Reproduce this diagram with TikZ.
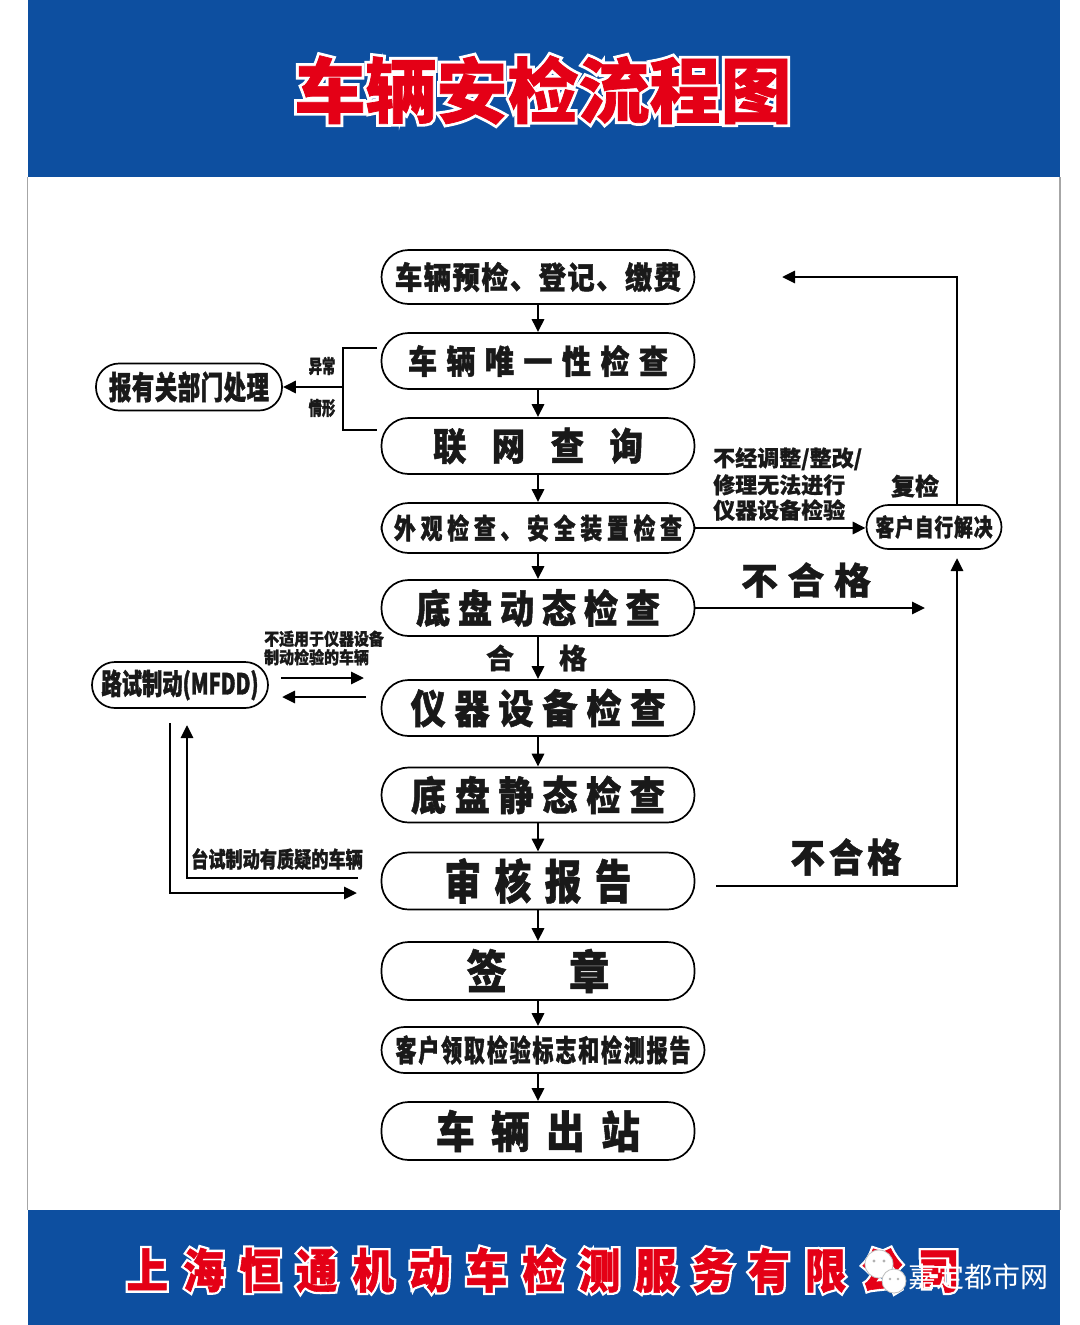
\documentclass[tikz,border=0pt]{standalone}
\usepackage{fontspec}
\usetikzlibrary{arrows.meta,calc}
\newfontfamily\cjN[BoldFeatures={FakeBold=0.8}]{Noto Sans CJK SC}
\newfontfamily\cjA[FakeStretch=0.88,BoldFeatures={FakeBold=1.2}]{Noto Sans CJK SC}
\newfontfamily\cjB[FakeStretch=0.78,BoldFeatures={FakeBold=1.2}]{Noto Sans CJK SC}
\newfontfamily\cjC[FakeStretch=0.70,BoldFeatures={FakeBold=1.2}]{Noto Sans CJK SC}
\newfontfamily\cjT[BoldFeatures={FakeBold=1.0}]{Noto Sans CJK SC}
\newfontfamily\cjTW[BoldFeatures={FakeBold=9}]{Noto Sans CJK SC}
\newfontfamily\cjAW[FakeStretch=0.88,BoldFeatures={FakeBold=11}]{Noto Sans CJK SC}
\newcommand\fs[1]{\fontsize{#1}{#1}\selectfont}
\newcommand\spr[2]{\makebox[#1][s]{#2}}
\newcommand\hf{\hfill}
\definecolor{banner}{RGB}{13,79,160}
\definecolor{titlered}{RGB}{228,0,22}
\definecolor{ink}{RGB}{25,25,25}
\tikzset{
  box/.style={draw=black, line width=1.7pt, rounded corners=27pt, minimum width=313pt,
    minimum height=56pt, inner sep=0pt, fill=white, text=ink},
  sbox/.style={draw=black, line width=1.7pt, rounded corners=22pt, inner sep=0pt, fill=white, text=ink},
  arr/.style={line width=2.9pt, -{Triangle[length=13pt,width=12pt]}},
  lbl/.style={inner sep=0pt, text=ink},
  halo/.style={inner sep=0pt, text=white},
  redt/.style={inner sep=0pt, text=titlered},
}
\begin{document}
\begin{tikzpicture}[x=1pt,y=-1pt]
\useasboundingbox (0,0) rectangle (1079,1325);
\fill[white] (0,0) rectangle (1079,1325);
% banners
\fill[banner] (28,0) rectangle (1060,177);
\fill[banner] (28,1210) rectangle (1060,1325);
\draw[gray!70, line width=1.5pt] (27.5,177) -- (27.5,1210);
\draw[gray!70, line width=1.5pt] (1060,177) -- (1060,1210);
% title
\node[halo] (titleW) at (543,90) {\fs{71}\cjTW\bfseries 车辆安检流程图};
\node[redt] (title) at (543,90) {\fs{71}\cjT\bfseries 车辆安检流程图};
\node[halo] (companyW) at (543,1270) {\fs{47}\cjAW\bfseries\spr{833pt}{上\hf 海\hf 恒\hf 通\hf 机\hf 动\hf 车\hf 检\hf 测\hf 服\hf 务\hf 有\hf 限\hf 公\hf 司}};
\node[redt] (company) at (543,1270) {\fs{47}\cjA\bfseries\spr{833pt}{上\hf 海\hf 恒\hf 通\hf 机\hf 动\hf 车\hf 检\hf 测\hf 服\hf 务\hf 有\hf 限\hf 公\hf 司}};
% watermark
\fill[white, draw=gray!50, line width=0.8pt] (879,1264) circle (14pt);
\fill[white, draw=gray!50, line width=0.8pt] (894,1281) circle (12pt);
\fill[gray!60] (874,1261) circle (1.6pt) (884,1261) circle (1.6pt) (890,1279) circle (1.4pt) (898,1279) circle (1.4pt);
\node[inner sep=0pt, text=white] (wm) at (978,1277) {\fs{28}\cjT 嘉定都市网};
% main nodes
\node[box, minimum height=54pt] (n1) at (538,277) {\fs{31}\cjA\bfseries\spr{286pt}{车\hf 辆\hf 预\hf 检\hf 、\hf 登\hf 记\hf 、\hf 缴\hf 费}};
\node[box] (n2) at (538,361) {\fs{33}\cjA\bfseries\spr{260pt}{车\hf 辆\hf 唯\hf 一\hf 性\hf 检\hf 查}};
\node[box] (n3) at (538,446) {\fs{38}\cjA\bfseries\spr{210pt}{联\hf 网\hf 查\hf 询}};
\node[box, minimum height=50pt] (n4) at (538,528) {\fs{28}\cjB\bfseries\spr{288pt}{外\hf 观\hf 检\hf 查\hf 、\hf 安\hf 全\hf 装\hf 置\hf 检\hf 查}};
\node[box] (n5) at (538,608) {\fs{39}\cjA\bfseries\spr{244pt}{底\hf 盘\hf 动\hf 态\hf 检\hf 查}};
\node[box] (n6) at (538,708) {\fs{40}\cjA\bfseries\spr{255pt}{仪\hf 器\hf 设\hf 备\hf 检\hf 查}};
\node[box, minimum height=55pt] (n7) at (538,795) {\fs{40}\cjA\bfseries\spr{254pt}{底\hf 盘\hf 静\hf 态\hf 检\hf 查}};
\node[box, minimum height=57pt] (n8) at (538,881) {\fs{47}\cjB\bfseries\spr{187pt}{审\hf 核\hf 报\hf 告}};
\node[box, minimum height=58pt] (n9) at (538,971) {\fs{46}\cjA\bfseries\spr{143pt}{签\hf 章}};
\node[box, minimum width=323pt, minimum height=46pt, rounded corners=23pt] (n10) at (543,1050) {\fs{30}\cjC\bfseries\spr{295pt}{客\hf 户\hf 领\hf 取\hf 检\hf 验\hf 标\hf 志\hf 和\hf 检\hf 测\hf 报\hf 告}};
\node[box, minimum height=58pt] (n11) at (538,1131) {\fs{44}\cjA\bfseries\spr{204pt}{车\hf 辆\hf 出\hf 站}};
% side nodes
\node[sbox, minimum width=186pt, minimum height=47pt, rounded corners=23pt] (rep) at (189,387) {\fs{32}\cjC\bfseries\spr{160pt}{报\hf 有\hf 关\hf 部\hf 门\hf 处\hf 理}};
\node[sbox, minimum width=135pt, minimum height=44pt] (cust) at (934,527) {\fs{24}\cjB\bfseries\spr{117pt}{客\hf 户\hf 自\hf 行\hf 解\hf 决}};
\node[sbox, minimum width=176pt, minimum height=46pt, rounded corners=23pt] (road) at (180,685) {\fs{29}\cjC\bfseries 路试制动(MFDD)};
% central arrows
\draw[arr] (n1.south) -- (n2.north);
\draw[arr] (n2.south) -- (n3.north);
\draw[arr] (n3.south) -- (n4.north);
\draw[arr] (n4.south) -- (n5.north);
\draw[arr] (n5.south) -- (n6.north);
\draw[arr] (n6.south) -- (n7.north);
\draw[arr] (n7.south) -- (n8.north);
\draw[arr] (n8.south) -- (n9.north);
\draw[arr] (n9.south) -- (n10.north -| n9.south);
\draw[arr] (n10.south -| n11.north) -- (n11.north);
\node[lbl] (he) at (500,658) {\fs{28}\cjN\bfseries 合};
\node[lbl] (ge) at (573,658) {\fs{28}\cjN\bfseries 格};
% bracket to rep
\coordinate (bA) at (377,348);
\coordinate (bB) at (343,430);
\coordinate (bC) at (377,430);
\coordinate (bM) at (343,387);
\draw[line width=2.9pt] (bA) -| (bB) -- (bC);
\draw[arr] (bM) -- (rep.east);
\node[lbl] (yc) at (322,366) {\fs{19}\cjC\bfseries 异常};
\node[lbl] (qx) at (322,408) {\fs{19}\cjC\bfseries 情形};
% right side
\draw[arr] (n4.east) -- (n4.east -| cust.west);
\node[lbl, anchor=west, align=left] (note) at (713,484) {\fs{22}\cjN\bfseries 不经调整/整改/\\[3pt]\fs{22}\cjN\bfseries 修理无法进行\\[3pt]\fs{22}\cjN\bfseries 仪器设备检验};
\node[lbl] (fj) at (915,486) {\fs{24}\cjN\bfseries 复检};
\coordinate (lpA) at (957,505);
\coordinate (lpB) at (782,277);
\draw[arr] (lpA) |- (lpB);
\coordinate (r1) at (925,608);
\draw[arr] (n5.east) -- (r1);
\node[lbl] (bhg1) at (806,580) {\fs{37}\cjN\bfseries\spr{130pt}{不\hf 合\hf 格}};
\coordinate (rb) at (716,886);
\coordinate (rc) at (957,558);
\draw[arr] (rb) -| (rc);
\node[lbl] (bhg2) at (846,857) {\fs{39}\cjA\bfseries\spr{111pt}{不\hf 合\hf 格}};
% left side
\coordinate (lA) at (281,678);
\coordinate (lB) at (364,678);
\coordinate (lC) at (366,697);
\coordinate (lD) at (282,697);
\draw[arr] (lA) -- (lB);
\draw[arr] (lC) -- (lD);
\node[lbl, anchor=west, align=left] (bsy) at (264,648) {\fs{17}\cjA\bfseries 不适用于仪器设备\\[1pt]\fs{17}\cjA\bfseries 制动检验的车辆};
\coordinate (dA) at (170,723);
\coordinate (dB) at (357,893);
\coordinate (dC) at (358,878);
\coordinate (dD) at (187,725);
\draw[arr] (dA) |- (dB);
\draw[arr] (dC) -| (dD);
\node[lbl] (tszd) at (277,859) {\fs{22}\cjB\bfseries 台试制动有质疑的车辆};
\end{tikzpicture}
\end{document}
